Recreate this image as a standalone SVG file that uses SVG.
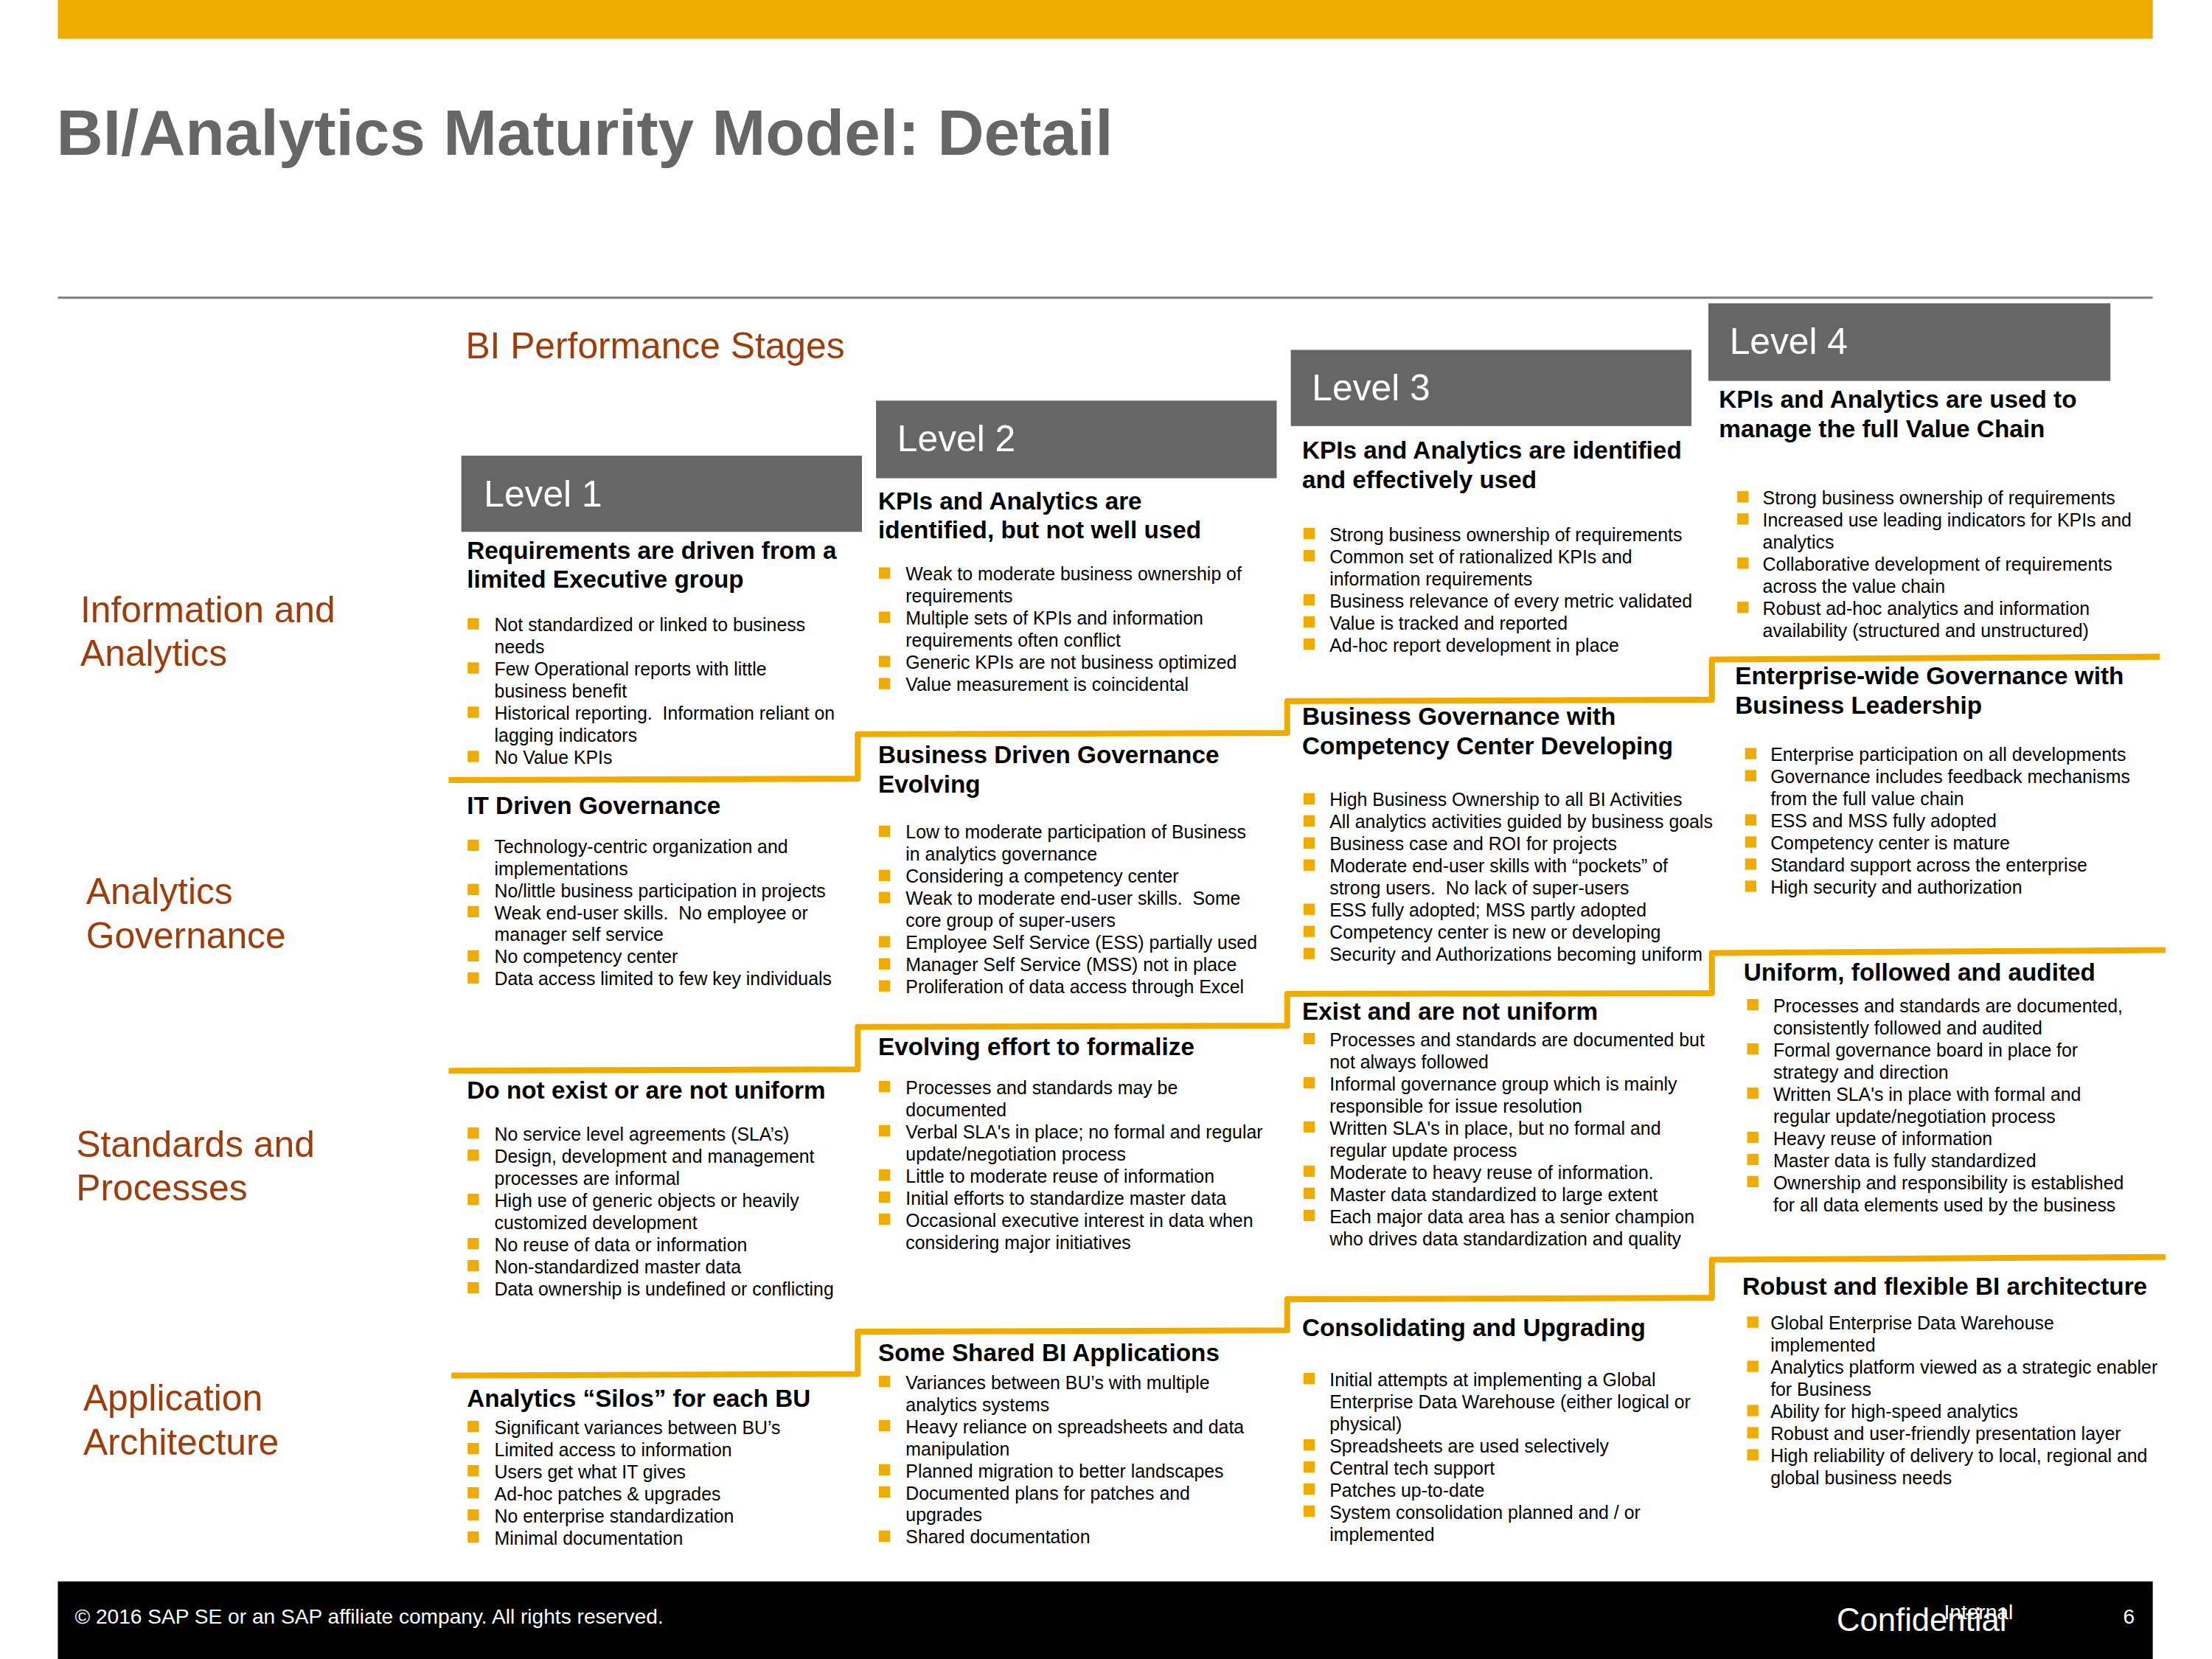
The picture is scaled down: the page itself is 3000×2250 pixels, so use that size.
<svg xmlns="http://www.w3.org/2000/svg" width="3000" height="2250" viewBox="0 0 3000 2250">
<style>
text{font-family:"Liberation Sans",Arial,sans-serif}
.ttl{font-size:45.7px;font-weight:bold;fill:#666666}
.sec{font-size:26px;fill:#A03C0A}
.lvl{font-size:26px;fill:#ffffff}
.lb{fill:#666666}
.h{font-size:17.4px;font-weight:bold;fill:#000000}
.t{font-size:13px;fill:#000000}
.sq{fill:#F0AB00}
.stair{fill:none;stroke:#F0AB00;stroke-width:4.2;stroke-linejoin:round;stroke-linecap:butt}
.ft{fill:#ffffff}
</style>
<rect width="3000" height="2250" fill="#ffffff"/>
<g transform="scale(1.913265)">
<g id="header">
<rect x="41" y="0" width="1485" height="27.5" fill="#F0AB00"/>
<text class="ttl" x="40" y="109.5">BI/Analytics Maturity Model: Detail</text>
<line x1="41" y1="211" x2="1526" y2="211" stroke="#808080" stroke-width="1.6"/>
<text class="sec" x="330" y="254">BI Performance Stages</text>
</g>
<g id="row-labels">
<text class="sec" x="57" y="441">Information and<tspan x="57" y="472">Analytics</tspan></text>
<text class="sec" x="61" y="641">Analytics<tspan x="61" y="672">Governance</tspan></text>
<text class="sec" x="54" y="820">Standards and<tspan x="54" y="851">Processes</tspan></text>
<text class="sec" x="59" y="1000">Application<tspan x="59" y="1031">Architecture</tspan></text>
</g>
<g id="level1"><rect class="lb" x="327" y="323" width="284" height="54"/><text class="lvl" x="343" y="359">Level 1</text></g>
<g id="level2"><rect class="lb" x="621" y="284" width="284" height="55"/><text class="lvl" x="636" y="320">Level 2</text></g>
<g id="level3"><rect class="lb" x="915" y="248" width="284" height="54"/><text class="lvl" x="930" y="284">Level 3</text></g>
<g id="level4"><rect class="lb" x="1211" y="215" width="285" height="55"/><text class="lvl" x="1226" y="251">Level 4</text></g>

<g id="connectors">
<path class="stair" d="M318,553 L608,552 L608,520.5 L912.5,519.5 L912.5,497 L1213.5,496 L1213.5,467.5 L1531,465.5"/>
<path class="stair" d="M318,759 L608,758 L608,728 L912.5,727 L912.5,704.5 L1213.5,704 L1213.5,675.5 L1535,673.5"/>
<path class="stair" d="M320,975 L608,974 L608,944 L912.5,943 L912.5,921 L1213.5,920 L1213.5,893 L1535,891"/>
</g>

<!-- Column 1 -->
<g id="l1-info">
<text class="h" x="331" y="396">Requirements are driven from a<tspan x="331" dy="20.8">limited Executive group</tspan></text>
<rect class="sq" x="331.5" y="438.2" width="8" height="8"/><rect class="sq" x="331.5" y="469.54" width="8" height="8"/><rect class="sq" x="331.5" y="500.88" width="8" height="8"/><rect class="sq" x="331.5" y="532.22" width="8" height="8"/>
<text class="t"><tspan x="350.5" y="447.5">Not standardized or linked to business</tspan><tspan x="350.5" dy="15.67">needs</tspan><tspan x="350.5" dy="15.67">Few Operational reports with little</tspan><tspan x="350.5" dy="15.67">business benefit</tspan><tspan x="350.5" dy="15.67">Historical reporting.&#160; Information reliant on</tspan><tspan x="350.5" dy="15.67">lagging indicators</tspan><tspan x="350.5" dy="15.67">No Value KPIs</tspan></text>
</g>
<g id="l1-gov">
<text class="h" x="331" y="577">IT Driven Governance</text>
<rect class="sq" x="331.5" y="595.2" width="8" height="8"/><rect class="sq" x="331.5" y="626.54" width="8" height="8"/><rect class="sq" x="331.5" y="642.21" width="8" height="8"/><rect class="sq" x="331.5" y="673.55" width="8" height="8"/><rect class="sq" x="331.5" y="689.22" width="8" height="8"/>
<text class="t"><tspan x="350.5" y="604.5">Technology-centric organization and</tspan><tspan x="350.5" dy="15.67">implementations</tspan><tspan x="350.5" dy="15.67">No/little business participation in projects</tspan><tspan x="350.5" dy="15.67">Weak end-user skills.&#160; No employee or</tspan><tspan x="350.5" dy="15.67">manager self service</tspan><tspan x="350.5" dy="15.67">No competency center</tspan><tspan x="350.5" dy="15.67">Data access limited to few key individuals</tspan></text>
</g>
<g id="l1-std">
<text class="h" x="331" y="779">Do not exist or are not uniform</text>
<rect class="sq" x="331.5" y="799.2" width="8" height="8"/><rect class="sq" x="331.5" y="814.87" width="8" height="8"/><rect class="sq" x="331.5" y="846.21" width="8" height="8"/><rect class="sq" x="331.5" y="877.55" width="8" height="8"/><rect class="sq" x="331.5" y="893.22" width="8" height="8"/><rect class="sq" x="331.5" y="908.89" width="8" height="8"/>
<text class="t"><tspan x="350.5" y="808.5">No service level agreements (SLA’s)</tspan><tspan x="350.5" dy="15.67">Design, development and management</tspan><tspan x="350.5" dy="15.67">processes are informal</tspan><tspan x="350.5" dy="15.67">High use of generic objects or heavily</tspan><tspan x="350.5" dy="15.67">customized development</tspan><tspan x="350.5" dy="15.67">No reuse of data or information</tspan><tspan x="350.5" dy="15.67">Non-standardized master data</tspan><tspan x="350.5" dy="15.67">Data ownership is undefined or conflicting</tspan></text>
</g>
<g id="l1-app">
<text class="h" x="331" y="997">Analytics “Silos” for each BU</text>
<rect class="sq" x="331.5" y="1007.2" width="8" height="8"/><rect class="sq" x="331.5" y="1022.87" width="8" height="8"/><rect class="sq" x="331.5" y="1038.54" width="8" height="8"/><rect class="sq" x="331.5" y="1054.21" width="8" height="8"/><rect class="sq" x="331.5" y="1069.88" width="8" height="8"/><rect class="sq" x="331.5" y="1085.55" width="8" height="8"/>
<text class="t"><tspan x="350.5" y="1016.5">Significant variances between BU’s</tspan><tspan x="350.5" dy="15.67">Limited access to information</tspan><tspan x="350.5" dy="15.67">Users get what IT gives</tspan><tspan x="350.5" dy="15.67">Ad-hoc patches &amp; upgrades</tspan><tspan x="350.5" dy="15.67">No enterprise standardization</tspan><tspan x="350.5" dy="15.67">Minimal documentation</tspan></text>
</g>

<!-- Column 2 -->
<g id="l2-info">
<text class="h" x="622.5" y="361">KPIs and Analytics are<tspan x="622.5" dy="20.8">identified, but not well used</tspan></text>
<rect class="sq" x="623" y="402.2" width="8" height="8"/><rect class="sq" x="623" y="433.54" width="8" height="8"/><rect class="sq" x="623" y="464.88" width="8" height="8"/><rect class="sq" x="623" y="480.55" width="8" height="8"/>
<text class="t"><tspan x="642" y="411.5">Weak to moderate business ownership of</tspan><tspan x="642" dy="15.67">requirements</tspan><tspan x="642" dy="15.67">Multiple sets of KPIs and information</tspan><tspan x="642" dy="15.67">requirements often conflict</tspan><tspan x="642" dy="15.67">Generic KPIs are not business optimized</tspan><tspan x="642" dy="15.67">Value measurement is coincidental</tspan></text>
</g>
<g id="l2-gov">
<text class="h" x="622.5" y="541">Business Driven Governance<tspan x="622.5" dy="20.8">Evolving</tspan></text>
<rect class="sq" x="623" y="585.2" width="8" height="8"/><rect class="sq" x="623" y="616.54" width="8" height="8"/><rect class="sq" x="623" y="632.21" width="8" height="8"/><rect class="sq" x="623" y="663.55" width="8" height="8"/><rect class="sq" x="623" y="679.22" width="8" height="8"/><rect class="sq" x="623" y="694.89" width="8" height="8"/>
<text class="t"><tspan x="642" y="594.5">Low to moderate participation of Business</tspan><tspan x="642" dy="15.67">in analytics governance</tspan><tspan x="642" dy="15.67">Considering a competency center</tspan><tspan x="642" dy="15.67">Weak to moderate end-user skills.&#160; Some</tspan><tspan x="642" dy="15.67">core group of super-users</tspan><tspan x="642" dy="15.67">Employee Self Service (ESS) partially used</tspan><tspan x="642" dy="15.67">Manager Self Service (MSS) not in place</tspan><tspan x="642" dy="15.67">Proliferation of data access through Excel</tspan></text>
</g>
<g id="l2-std">
<text class="h" x="622.5" y="748">Evolving effort to formalize</text>
<rect class="sq" x="623" y="766.2" width="8" height="8"/><rect class="sq" x="623" y="797.54" width="8" height="8"/><rect class="sq" x="623" y="828.88" width="8" height="8"/><rect class="sq" x="623" y="844.55" width="8" height="8"/><rect class="sq" x="623" y="860.22" width="8" height="8"/>
<text class="t"><tspan x="642" y="775.5">Processes and standards may be</tspan><tspan x="642" dy="15.67">documented</tspan><tspan x="642" dy="15.67">Verbal SLA's in place; no formal and regular</tspan><tspan x="642" dy="15.67">update/negotiation process</tspan><tspan x="642" dy="15.67">Little to moderate reuse of information</tspan><tspan x="642" dy="15.67">Initial efforts to standardize master data</tspan><tspan x="642" dy="15.67">Occasional executive interest in data when</tspan><tspan x="642" dy="15.67">considering major initiatives</tspan></text>
</g>
<g id="l2-app">
<text class="h" x="622.5" y="965">Some Shared BI Applications</text>
<rect class="sq" x="623" y="975.2" width="8" height="8"/><rect class="sq" x="623" y="1006.54" width="8" height="8"/><rect class="sq" x="623" y="1037.88" width="8" height="8"/><rect class="sq" x="623" y="1053.55" width="8" height="8"/><rect class="sq" x="623" y="1084.89" width="8" height="8"/>
<text class="t"><tspan x="642" y="984.5">Variances between BU’s with multiple</tspan><tspan x="642" dy="15.67">analytics systems</tspan><tspan x="642" dy="15.67">Heavy reliance on spreadsheets and data</tspan><tspan x="642" dy="15.67">manipulation</tspan><tspan x="642" dy="15.67">Planned migration to better landscapes</tspan><tspan x="642" dy="15.67">Documented plans for patches and</tspan><tspan x="642" dy="15.67">upgrades</tspan><tspan x="642" dy="15.67">Shared documentation</tspan></text>
</g>

<!-- Column 3 -->
<g id="l3-info">
<text class="h" x="923" y="325">KPIs and Analytics are identified<tspan x="923" dy="20.8">and effectively used</tspan></text>
<rect class="sq" x="924" y="374.2" width="8" height="8"/><rect class="sq" x="924" y="389.87" width="8" height="8"/><rect class="sq" x="924" y="421.21" width="8" height="8"/><rect class="sq" x="924" y="436.88" width="8" height="8"/><rect class="sq" x="924" y="452.55" width="8" height="8"/>
<text class="t"><tspan x="942.5" y="383.5">Strong business ownership of requirements</tspan><tspan x="942.5" dy="15.67">Common set of rationalized KPIs and</tspan><tspan x="942.5" dy="15.67">information requirements</tspan><tspan x="942.5" dy="15.67">Business relevance of every metric validated</tspan><tspan x="942.5" dy="15.67">Value is tracked and reported</tspan><tspan x="942.5" dy="15.67">Ad-hoc report development in place</tspan></text>
</g>
<g id="l3-gov">
<text class="h" x="923" y="514">Business Governance with<tspan x="923" dy="20.8">Competency Center Developing</tspan></text>
<rect class="sq" x="924" y="562.2" width="8" height="8"/><rect class="sq" x="924" y="577.87" width="8" height="8"/><rect class="sq" x="924" y="593.54" width="8" height="8"/><rect class="sq" x="924" y="609.21" width="8" height="8"/><rect class="sq" x="924" y="640.55" width="8" height="8"/><rect class="sq" x="924" y="656.22" width="8" height="8"/><rect class="sq" x="924" y="671.89" width="8" height="8"/>
<text class="t"><tspan x="942.5" y="571.5">High Business Ownership to all BI Activities</tspan><tspan x="942.5" dy="15.67">All analytics activities guided by business goals</tspan><tspan x="942.5" dy="15.67">Business case and ROI for projects</tspan><tspan x="942.5" dy="15.67">Moderate end-user skills with “pockets” of</tspan><tspan x="942.5" dy="15.67">strong users.&#160; No lack of super-users</tspan><tspan x="942.5" dy="15.67">ESS fully adopted; MSS partly adopted</tspan><tspan x="942.5" dy="15.67">Competency center is new or developing</tspan><tspan x="942.5" dy="15.67">Security and Authorizations becoming uniform</tspan></text>
</g>
<g id="l3-std">
<text class="h" x="923" y="723">Exist and are not uniform</text>
<rect class="sq" x="924" y="732.2" width="8" height="8"/><rect class="sq" x="924" y="763.54" width="8" height="8"/><rect class="sq" x="924" y="794.88" width="8" height="8"/><rect class="sq" x="924" y="826.22" width="8" height="8"/><rect class="sq" x="924" y="841.89" width="8" height="8"/><rect class="sq" x="924" y="857.56" width="8" height="8"/>
<text class="t"><tspan x="942.5" y="741.5">Processes and standards are documented but</tspan><tspan x="942.5" dy="15.67">not always followed</tspan><tspan x="942.5" dy="15.67">Informal governance group which is mainly</tspan><tspan x="942.5" dy="15.67">responsible for issue resolution</tspan><tspan x="942.5" dy="15.67">Written SLA's in place, but no formal and</tspan><tspan x="942.5" dy="15.67">regular update process</tspan><tspan x="942.5" dy="15.67">Moderate to heavy reuse of information.</tspan><tspan x="942.5" dy="15.67">Master data standardized to large extent</tspan><tspan x="942.5" dy="15.67">Each major data area has a senior champion</tspan><tspan x="942.5" dy="15.67">who drives data standardization and quality</tspan></text>
</g>
<g id="l3-app">
<text class="h" x="923" y="947">Consolidating and Upgrading</text>
<rect class="sq" x="924" y="973.2" width="8" height="8"/><rect class="sq" x="924" y="1020.21" width="8" height="8"/><rect class="sq" x="924" y="1035.88" width="8" height="8"/><rect class="sq" x="924" y="1051.55" width="8" height="8"/><rect class="sq" x="924" y="1067.22" width="8" height="8"/>
<text class="t"><tspan x="942.5" y="982.5">Initial attempts at implementing a Global</tspan><tspan x="942.5" dy="15.67">Enterprise Data Warehouse (either logical or</tspan><tspan x="942.5" dy="15.67">physical)</tspan><tspan x="942.5" dy="15.67">Spreadsheets are used selectively</tspan><tspan x="942.5" dy="15.67">Central tech support</tspan><tspan x="942.5" dy="15.67">Patches up-to-date</tspan><tspan x="942.5" dy="15.67">System consolidation planned and / or</tspan><tspan x="942.5" dy="15.67">implemented</tspan></text>
</g>

<!-- Column 4 -->
<g id="l4-info">
<text class="h" x="1218.5" y="289">KPIs and Analytics are used to<tspan x="1218.5" dy="20.8">manage the full Value Chain</tspan></text>
<rect class="sq" x="1231.5" y="348.2" width="8" height="8"/><rect class="sq" x="1231.5" y="363.87" width="8" height="8"/><rect class="sq" x="1231.5" y="395.21" width="8" height="8"/><rect class="sq" x="1231.5" y="426.55" width="8" height="8"/>
<text class="t"><tspan x="1249.5" y="357.5">Strong business ownership of requirements</tspan><tspan x="1249.5" dy="15.67">Increased use leading indicators for KPIs and</tspan><tspan x="1249.5" dy="15.67">analytics</tspan><tspan x="1249.5" dy="15.67">Collaborative development of requirements</tspan><tspan x="1249.5" dy="15.67">across the value chain</tspan><tspan x="1249.5" dy="15.67">Robust ad-hoc analytics and information</tspan><tspan x="1249.5" dy="15.67">availability (structured and unstructured)</tspan></text>
</g>
<g id="l4-gov">
<text class="h" x="1230" y="485">Enterprise-wide Governance with<tspan x="1230" dy="20.8">Business Leadership</tspan></text>
<rect class="sq" x="1237" y="530.2" width="8" height="8"/><rect class="sq" x="1237" y="545.87" width="8" height="8"/><rect class="sq" x="1237" y="577.21" width="8" height="8"/><rect class="sq" x="1237" y="592.88" width="8" height="8"/><rect class="sq" x="1237" y="608.55" width="8" height="8"/><rect class="sq" x="1237" y="624.22" width="8" height="8"/>
<text class="t"><tspan x="1255" y="539.5">Enterprise participation on all developments</tspan><tspan x="1255" dy="15.67">Governance includes feedback mechanisms</tspan><tspan x="1255" dy="15.67">from the full value chain</tspan><tspan x="1255" dy="15.67">ESS and MSS fully adopted</tspan><tspan x="1255" dy="15.67">Competency center is mature</tspan><tspan x="1255" dy="15.67">Standard support across the enterprise</tspan><tspan x="1255" dy="15.67">High security and authorization</tspan></text>
</g>
<g id="l4-std">
<text class="h" x="1236" y="695">Uniform, followed and audited</text>
<rect class="sq" x="1238.5" y="708.2" width="8" height="8"/><rect class="sq" x="1238.5" y="739.54" width="8" height="8"/><rect class="sq" x="1238.5" y="770.88" width="8" height="8"/><rect class="sq" x="1238.5" y="802.22" width="8" height="8"/><rect class="sq" x="1238.5" y="817.89" width="8" height="8"/><rect class="sq" x="1238.5" y="833.56" width="8" height="8"/>
<text class="t"><tspan x="1257" y="717.5">Processes and standards are documented,</tspan><tspan x="1257" dy="15.67">consistently followed and audited</tspan><tspan x="1257" dy="15.67">Formal governance board in place for</tspan><tspan x="1257" dy="15.67">strategy and direction</tspan><tspan x="1257" dy="15.67">Written SLA's in place with formal and</tspan><tspan x="1257" dy="15.67">regular update/negotiation process</tspan><tspan x="1257" dy="15.67">Heavy reuse of information</tspan><tspan x="1257" dy="15.67">Master data is fully standardized</tspan><tspan x="1257" dy="15.67">Ownership and responsibility is established</tspan><tspan x="1257" dy="15.67">for all data elements used by the business</tspan></text>
</g>
<g id="l4-app">
<text class="h" x="1235" y="918">Robust and flexible BI architecture</text>
<rect class="sq" x="1238.5" y="933.2" width="8" height="8"/><rect class="sq" x="1238.5" y="964.54" width="8" height="8"/><rect class="sq" x="1238.5" y="995.88" width="8" height="8"/><rect class="sq" x="1238.5" y="1011.55" width="8" height="8"/><rect class="sq" x="1238.5" y="1027.22" width="8" height="8"/>
<text class="t"><tspan x="1255" y="942.5">Global Enterprise Data Warehouse</tspan><tspan x="1255" dy="15.67">implemented</tspan><tspan x="1255" dy="15.67">Analytics platform viewed as a strategic enabler</tspan><tspan x="1255" dy="15.67">for Business</tspan><tspan x="1255" dy="15.67">Ability for high-speed analytics</tspan><tspan x="1255" dy="15.67">Robust and user-friendly presentation layer</tspan><tspan x="1255" dy="15.67">High reliability of delivery to local, regional and</tspan><tspan x="1255" dy="15.67">global business needs</tspan></text>
</g>

<g id="footer">
<rect x="41" y="1121" width="1485" height="55" fill="#000000"/>
<text class="ft" x="53" y="1151" font-size="14.7">© 2016 SAP SE or an SAP affiliate company. All rights reserved.</text>
<text class="ft" x="1302" y="1156" font-size="22.8">Confidential</text>
<text class="ft" x="1378" y="1148" font-size="14.7">Internal</text>
<text class="ft" x="1505" y="1151" font-size="14.7">6</text>
</g>
</g>
</svg>
